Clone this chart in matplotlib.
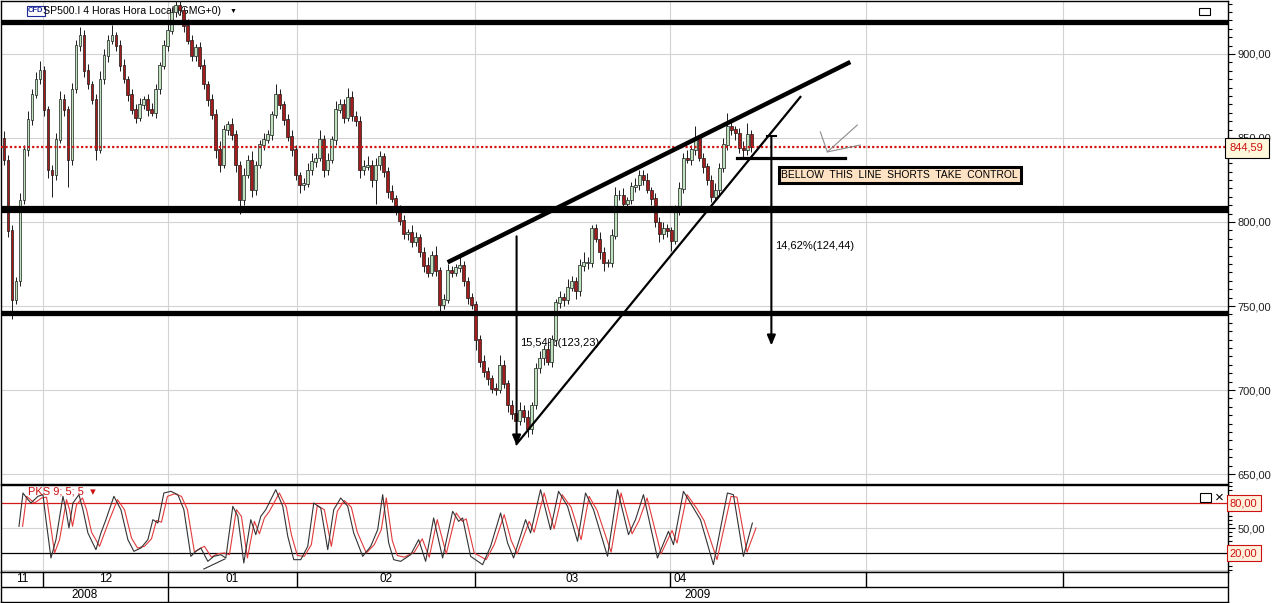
import matplotlib
matplotlib.use("Agg")
import matplotlib.pyplot as plt
import matplotlib.transforms as mtransforms
from matplotlib.ticker import MultipleLocator, FuncFormatter, FixedLocator
import numpy as np

plt.rcParams['font.family'] = ['Liberation Sans', 'DejaVu Sans']

# ---------------- data ----------------
first_open = 850.0
closes = [
    837, 795, 754, 765, 813, 843, 861, 876, 885, 890,
    867, 831, 828, 849, 873, 867, 837, 879, 905, 911,
    890, 882, 873, 843, 885, 899, 908, 911, 905, 893,
    885, 876, 867, 862, 870, 873, 867, 865, 879, 893,
    905, 914, 925, 929, 926, 917, 908, 899, 904, 893,
    882, 873, 864, 843, 834, 855, 858, 852, 834, 813,
    828, 837, 819, 834, 846, 849, 852, 864, 876, 870,
    861, 851, 843, 828, 822, 823, 831, 836, 838, 849,
    831, 837, 849, 867, 870, 862, 874, 863, 860, 831,
    833, 834, 825, 834, 839, 830, 818, 814, 807, 801,
    793, 794, 788, 791, 782, 774, 770, 780, 771, 751,
    754, 771, 770, 773, 774, 765, 755, 751, 730, 717,
    711, 707, 701, 700, 715, 704, 691, 686, 682, 688,
    684, 677, 691, 713, 719, 724, 717, 730, 752, 755,
    754, 761, 765, 759, 774, 776, 776, 796, 790, 782,
    776, 776, 792, 816, 816, 811, 813, 821, 822, 828,
    825, 819, 814, 800, 793, 796, 795, 789, 807, 820,
    838, 837, 843, 850, 838, 833, 825, 815, 819, 832,
    846, 857, 855, 853, 844, 843, 852, 844.59,
]
up_wick = [
    4, 3, 3, 2, 4, 3, 5, 3, 4, 6, 3, 2, 3, 4, 5, 3, 2, 4, 3, 5,
    3, 4, 2, 3, 5, 4, 3, 6, 2, 3, 4, 2, 3, 3, 4, 2, 3, 4, 3, 2,
    3, 4, 3, 5, 3, 2, 4, 3, 2, 3, 4, 2, 3, 3, 5, 3, 2, 4, 3, 2,
    4, 3, 5, 2, 3, 4, 3, 2, 6, 3, 2, 3, 4, 3, 2, 3, 4, 5, 3, 6,
    3, 4, 2, 5, 3, 3, 6, 4, 3, 3, 4, 5, 3, 4, 3, 2, 3, 4, 2, 3,
    3, 2, 4, 3, 2, 3, 5, 3, 6, 2, 3, 4, 3, 2, 5, 3, 2, 3, 2, 3,
    4, 3, 2, 3, 6, 3, 2, 3, 4, 5, 3, 4, 2, 3, 4, 3, 5, 3, 2, 4,
    3, 5, 3, 2, 4, 6, 3, 2, 3, 4, 3, 2, 4, 5, 3, 4, 2, 3, 4, 3,
    3, 4, 2, 3, 3, 4, 3, 2, 3, 4, 3, 5, 3, 7, 2, 3, 2, 3, 4, 3,
    4, 8, 3, 2, 3, 4, 7, 3,
]
lo_wick = [
    3, 4, 12, 3, 3, 2, 4, 3, 2, 3, 4, 5, 13, 3, 2, 4, 16, 3, 2, 3,
    4, 3, 3, 6, 2, 3, 4, 2, 3, 3, 2, 4, 3, 3, 2, 3, 4, 2, 3, 3,
    2, 3, 2, 3, 3, 4, 2, 3, 3, 2, 3, 4, 3, 5, 4, 2, 3, 3, 4, 8,
    3, 2, 4, 3, 2, 3, 2, 3, 2, 3, 3, 3, 4, 3, 5, 3, 2, 3, 3, 2,
    4, 3, 2, 3, 2, 3, 2, 3, 3, 5, 3, 2, 4, 14, 3, 3, 4, 2, 3, 3,
    3, 4, 3, 2, 3, 4, 3, 2, 3, 6, 3, 2, 3, 2, 3, 3, 4, 3, 6, 3,
    3, 4, 3, 3, 2, 3, 4, 3, 10, 3, 3, 5, 3, 2, 3, 4, 2, 3, 4, 3,
    4, 3, 2, 5, 3, 3, 4, 3, 2, 4, 5, 3, 3, 2, 3, 4, 3, 2, 3, 3,
    3, 2, 4, 3, 5, 3, 4, 6, 2, 3, 3, 2, 3, 3, 2, 4, 3, 3, 2, 3,
    2, 3, 3, 4, 3, 5, 3, 3,
]

# stochastic (PKS 9;5;5): positions in bar units
stoch_pos = [
    3.75, 4.75, 6, 6.75, 8.5, 9.75, 10.5, 11.75, 13, 14.75,
    15.5, 16.25, 17.25, 18.75, 19.75, 21, 23, 24.25, 25.5, 27.5,
    29.25, 31, 32.5, 34.25, 36, 37.25, 38.5, 40, 41.75, 43.5,
    45, 46.75, 48, 49.25, 51, 52.5, 54.25, 55.5, 57.25, 58.5,
    60, 61.75, 63, 64.25, 65.5, 68, 69.75, 71, 72.5, 74.25,
    76, 77.5, 79.25, 81, 82.5, 84.25, 86, 87.5, 89.75, 91.75,
    93.5, 94.75, 96.25, 97.5, 99.25, 101.75, 103.75, 105.5, 107.5, 109.75,
    112.25, 113.75, 114.75, 116.75, 119.75, 121.75, 124.25, 126, 127.5, 130.5,
    131.75, 134.25, 136.75, 138.75, 141, 143.5, 145.5, 147.5, 151, 153.5,
    156.25, 158, 160, 163.5, 166.25, 167.5, 170, 172.5, 174.25, 177.5,
    181, 182.5, 185, 187.25,
]
stoch_k = [
    52, 92, 84, 80, 88, 90, 60, 14, 36, 88,
    72, 50, 80, 90, 72, 44, 24, 44, 60, 88,
    72, 36, 22, 26, 36, 60, 56, 92, 94, 90,
    72, 16, 22, 26, 10, 16, 18, 14, 76, 64,
    8, 60, 42, 64, 72, 96, 76, 40, 12, 12,
    28, 80, 74, 24, 72, 86, 76, 44, 16, 28,
    48, 90, 32, 12, 10, 18, 36, 10, 62, 14,
    70, 58, 62, 16, 6, 28, 68, 32, 14, 60,
    44, 96, 48, 94, 76, 34, 92, 72, 16, 96,
    42, 60, 90, 14, 46, 30, 94, 74, 60, 6,
    92, 90, 16, 56,
]
stoch_d = [
    52, 88, 83, 80, 86, 87, 62, 20, 36, 84,
    72, 52, 78, 86, 72, 45, 28, 44, 60, 84,
    72, 38, 26, 28, 37, 59, 57, 88, 91, 88,
    72, 21, 25, 28, 15, 19, 20, 18, 72, 64,
    14, 58, 43, 62, 70, 92, 75, 42, 17, 16,
    30, 77, 72, 28, 70, 83, 75, 45, 20, 30,
    48, 86, 35, 17, 15, 21, 37, 15, 60, 19,
    68, 58, 61, 20, 12, 30, 66, 35, 19, 58,
    45, 92, 49, 90, 75, 36, 88, 71, 21, 92,
    43, 59, 86, 19, 47, 32, 90, 73, 59, 12,
    88, 87, 21, 50,
]
stoch_d_lag = 0.9

month_starts = [9.75, 41, 73.25, 117.75, 166.75, 215.75, 265]
month_labels = ["11", "12", "01", "02", "03", "04"]
year_labels = ["2008", "2009"]
year_start = 41

levels = [919.0, 807.7, 745.8]
last_price = 844.59
wedge_upper = ([111, 211.75], [776.0, 895.2])
wedge_lower = ([128.25, 199.25], [667.9, 874.4])
arrow1 = (128.25, 791.5, 667.0, "15,54%(123,23)")
arrow2 = (192.0, 851.0, 726.5, "14,62%(124,44)")
neckline = ([183.5, 210.5], 838.1)
check_mark = ([204.25, 206, 213.5], [853.6, 841.7, 857.7])
check_tail = ([206, 214.25], [841.7, 845.8])
stoch_div = ([50, 55.25], [0.8, 12.8])

XMIN, XMAX = -0.75, 306.25

# ---------------- figure ----------------
W, H = 1275, 603
fig = plt.figure(figsize=(W / 100, H / 100), dpi=100)
fig.patch.set_facecolor('white')

ax = fig.add_axes([1 / W, (603 - 484) / H, 1227 / W, 483 / H])
axs = fig.add_axes([1 / W, (603 - 572) / H, 1227 / W, 87 / H])
axd = fig.add_axes([1 / W, 1 / H, 1227 / W, 30 / H])

grid_c = '#d3d3d3'
up_c = '#bfe3bf'
dn_c = '#a51c1c'
edge_c = '#1a1a1a'

# ---- main panel ----
n = len(closes)
x = np.arange(n)
c = np.array(closes, dtype=float)
o = np.concatenate([[first_open], c[:-1]])
hi = np.maximum(o, c) + np.array(up_wick)
lo = np.minimum(o, c) - np.array(lo_wick)
colors = [up_c if cc >= oo else dn_c for oo, cc in zip(o, c)]

ax.set_xlim(XMIN, XMAX)
ax.set_ylim(644.1, 931.5)

for v in range(650, 901, 50):
    ax.axhline(v, color=grid_c, lw=0.8, zorder=0)
for m in month_starts:
    ax.axvline(m, color=grid_c, lw=0.8, zorder=0)

# header text (drawn under candles)
ax.text(27 / 1227, 1 - 10 / 483, "CFD", transform=ax.transAxes, fontsize=5.5,
        color='#1f2a9a', fontweight='bold', va='center', ha='left', zorder=1,
        bbox=dict(boxstyle='square,pad=0.15', fc='white', ec='#1f2a9a', lw=0.8))
ax.text(42 / 1227, 1 - 10 / 483, "SP500.I 4 Horas Hora Local (GMG+0)",
        transform=ax.transAxes, fontsize=7.6, color='black', va='center',
        ha='left', zorder=1)
ax.text(229 / 1227, 1 - 10 / 483, "\u25BC", transform=ax.transAxes, fontsize=5,
        color='black', va='center', ha='left', zorder=1)
ax.add_patch(plt.Rectangle((1198 / 1227, 1 - 14 / 483), 11 / 1227, 7 / 483,
                           transform=ax.transAxes, fill=False, ec='black', lw=0.8))

ax.vlines(x, lo, hi, color=edge_c, lw=0.7, zorder=3)
ax.bar(x, np.abs(c - o) + 0.3, bottom=np.minimum(o, c) - 0.15, width=0.7,
       color=colors, edgecolor=edge_c, linewidth=0.5, zorder=3.1)

# support / resistance
for lv, lw in zip(levels, [3.8, 5.2, 3.8]):
    ax.axhline(lv, color='black', lw=lw, zorder=4)
ax.axhline(last_price, color='#d21414', lw=1.6, ls=(0, (1, 1)), zorder=4)

# wedge
ax.plot(*wedge_upper, color='black', lw=3.2, solid_capstyle='butt', zorder=5)
ax.plot(*wedge_lower, color='black', lw=1.6, zorder=5)

# arrows
for ax_x, top, bot, txt in [arrow1, arrow2]:
    ax.annotate("", xy=(ax_x, bot), xytext=(ax_x, top),
                arrowprops=dict(arrowstyle='-|>,head_length=0.6,head_width=0.25',
                                color='black', lw=1.5, shrinkA=0, shrinkB=0),
                zorder=5)
ax.plot([arrow2[0] - 1.1, arrow2[0] + 1.1], [arrow2[1], arrow2[1]], color='black',
        lw=1.5, zorder=5)
ax.text(arrow1[0] + 1.0, 728, arrow1[3], fontsize=8, va='center', ha='left',
        zorder=2)
ax.text(arrow2[0] + 1.0, 785.7, arrow2[3], fontsize=8, va='center', ha='left',
        zorder=6)

ax.plot(neckline[0], [neckline[1]] * 2, color='black', lw=2.3, zorder=5)
ax.text(194.5, 828, "BELLOW  THIS  LINE  SHORTS  TAKE  CONTROL", fontsize=7.4,
        va='center', ha='left', zorder=6,
        bbox=dict(boxstyle='square,pad=0.25', fc='#fde2c4', ec='black', lw=2.2))
ax.plot(*check_mark, color='#8c8c8c', lw=0.8, zorder=5)
ax.plot(*check_tail, color='#8c8c8c', lw=0.8, zorder=5)

# right axis
ax.yaxis.tick_right()
ax.yaxis.set_major_locator(MultipleLocator(50))
ax.yaxis.set_minor_locator(MultipleLocator(5))
ax.yaxis.set_major_formatter(FuncFormatter(lambda v, p: f"{v:.2f}".replace('.', ',')))
ax.tick_params(axis='y', which='major', length=5, width=0.8, labelsize=8,
               pad=2, colors='black', labelcolor='#222222')
ax.tick_params(axis='y', which='minor', length=3, width=0.8)
ax.set_xticks([])
for s in ax.spines.values():
    s.set_color('black')
    s.set_linewidth(1.0)

blend = mtransforms.blended_transform_factory(ax.transAxes, ax.transData)
ax.text(1.0015, last_price - 0.3, "844,59", transform=blend, fontsize=8,
        color='#cc1111', va='center', ha='left', zorder=10, clip_on=False,
        bbox=dict(boxstyle='square,pad=0.45', fc='#fff7dc', ec='black', lw=0.8))

# ---- stochastic panel ----
axs.set_xlim(XMIN, XMAX)
axs.set_ylim(-2.8, 101.6)
for v in [0, 50]:
    axs.axhline(v, color=grid_c, lw=0.8, zorder=0)
for m in month_starts:
    axs.axvline(m, color=grid_c, lw=0.8, zorder=0)
axs.axhline(80, color='#d01818', lw=0.9, zorder=1)
axs.axhline(20, color='black', lw=0.9, zorder=1)
axs.plot(np.array(stoch_pos) + stoch_d_lag, stoch_d, color='#e23a3a', lw=0.8,
         zorder=2)
axs.plot(stoch_pos, stoch_k, color='#333333', lw=0.8, zorder=3)
axs.plot(*stoch_div, color='#333333', lw=0.8, zorder=3)
axs.text(27 / 1227, 0.92, "PKS 9; 5; 5  \u25BE", transform=axs.transAxes,
         fontsize=8, color='#cc1111', va='center', ha='left', zorder=4)
axs.add_patch(plt.Rectangle((1199 / 1227, 0.81), 11 / 1227, 0.1,
                            transform=axs.transAxes, fill=False, ec='black', lw=0.8))
axs.text(1214 / 1227, 0.86, "\u00D7", transform=axs.transAxes, fontsize=11,
         va='center', ha='left')
axs.yaxis.tick_right()
axs.yaxis.set_major_locator(FixedLocator([50]))
axs.yaxis.set_minor_locator(MultipleLocator(5))
axs.yaxis.set_major_formatter(FuncFormatter(lambda v, p: f"{v:.2f}".replace('.', ',')))
axs.tick_params(axis='y', which='major', length=5, width=0.8, labelsize=8, pad=2,
                labelcolor='#222222')
axs.tick_params(axis='y', which='minor', length=3, width=0.8)
axs.set_xticks([])
for s in axs.spines.values():
    s.set_color('black')
    s.set_linewidth(1.0)
blend_s = mtransforms.blended_transform_factory(axs.transAxes, axs.transData)
for lv in [80, 20]:
    axs.text(1.0015, lv, f"{lv:.2f}".replace('.', ','), transform=blend_s,
             fontsize=8, color='#cc1111', va='center', ha='left', zorder=10,
             clip_on=False,
             bbox=dict(boxstyle='square,pad=0.3', fc='#fff1dc', ec='#cc1111', lw=0.8))

# ---- date axis ----
axd.set_xlim(XMIN, XMAX)
axd.set_ylim(0, 2)
axd.set_xticks([])
axd.set_yticks([])
for s in axd.spines.values():
    s.set_color('black')
    s.set_linewidth(1.0)
axd.axhline(1, color='black', lw=1.0)
axd.vlines(month_starts, 1, 2, color='black', lw=1.0)
axd.vlines([year_start], 0, 1, color='black', lw=1.0)
bounds = [XMIN] + month_starts
for i, lab in enumerate(month_labels):
    if i < len(month_labels) - 1:
        axd.text((bounds[i] + bounds[i + 1]) / 2, 1.5, lab, fontsize=8.5,
                 ha='center', va='center')
    else:
        axd.text(bounds[i] + 0.7, 1.5, lab, fontsize=8.5, ha='left', va='center')
axd.text((XMIN + year_start) / 2, 0.5, year_labels[0], fontsize=8.5, ha='center',
         va='center')
axd.text((year_start + XMAX) / 2, 0.5, year_labels[1], fontsize=8.5, ha='center',
         va='center')

fig.savefig("out.png", dpi=100, facecolor='white')
